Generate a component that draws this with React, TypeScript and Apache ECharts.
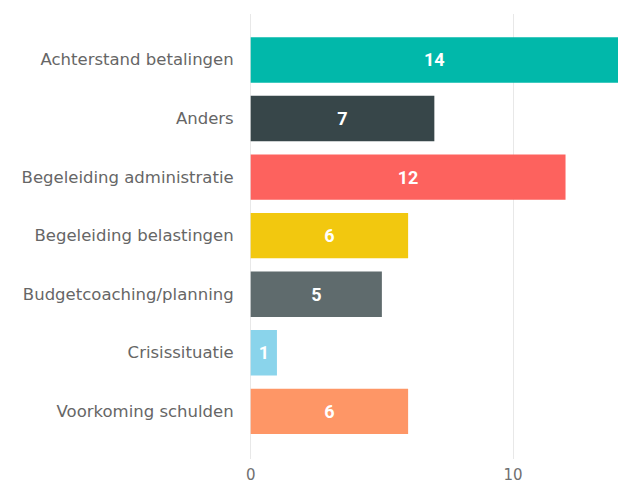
import React, { useEffect, useRef } from "react";
import * as echarts from "echarts";

const categories = [
  "Achterstand betalingen",
  "Anders",
  "Begeleiding administratie",
  "Begeleiding belastingen",
  "Budgetcoaching/planning",
  "Crisissituatie",
  "Voorkoming schulden",
];
const values = [14, 7, 12, 6, 5, 1, 6];
const barColors = ["#01B8AA", "#374649", "#FD625E", "#F2C80F", "#5F6B6D", "#8AD4EB", "#FE9666"];
const xTicks = [0, 10];

export default function App() {
  const ref = useRef<HTMLDivElement>(null);
  useEffect(() => {
    if (!ref.current) return;
    const chart = echarts.init(ref.current, undefined, { renderer: "svg" });
    const font = "'DejaVu Sans', sans-serif";
    const xMin = xTicks[0];
    const xInterval = xTicks[1] - xTicks[0];
    chart.setOption({
      animation: false,
      grid: [
        { left: 250.7, width: 371, top: 14, bottom: 23, containLabel: false },
        { left: 250.7, width: 371, top: 30.7, bottom: 41.4, containLabel: false },
      ],
      xAxis: [
        {
          type: "value",
          gridIndex: 0,
          min: xMin,
          max: 14,
          interval: xInterval,
          axisLine: { show: false },
          axisTick: { show: false },
          splitLine: { show: true, lineStyle: { color: "#E8E8E8", width: 1 } },
          axisLabel: {
            color: "#707070",
            fontSize: 15,
            lineHeight: 15,
            fontFamily: font,
            margin: 8,
            showMaxLabel: false,
          },
        },
        {
          type: "value",
          gridIndex: 1,
          min: xMin,
          max: 14,
          show: false,
        },
      ],
      yAxis: [
        { type: "value", gridIndex: 0, show: false },
        {
          type: "category",
          gridIndex: 1,
          data: categories,
          inverse: true,
          axisLine: { show: false },
          axisTick: { show: false },
          splitLine: { show: false },
          axisLabel: {
            color: "#666666",
            fontSize: 16.5,
            fontFamily: font,
            margin: 17,
          },
        },
      ],
      series: [
        {
          type: "bar",
          xAxisIndex: 1,
          yAxisIndex: 1,
          barCategoryGap: "22.5%",
          data: values.map((v, i) => ({ value: v, itemStyle: { color: barColors[i] } })),
          label: {
            show: true,
            position: "inside",
            color: "#FFFFFF",
            fontSize: 18,
            fontWeight: "bold",
            fontFamily: "'Roboto', sans-serif",
          },
        },
      ],
    });
    return () => chart.dispose();
  }, []);
  return (
    <div
      ref={ref}
      style={{ position: "fixed", left: 0, top: 0, width: 618, height: 482, background: "#FFFFFF" }}
    />
  );
}
